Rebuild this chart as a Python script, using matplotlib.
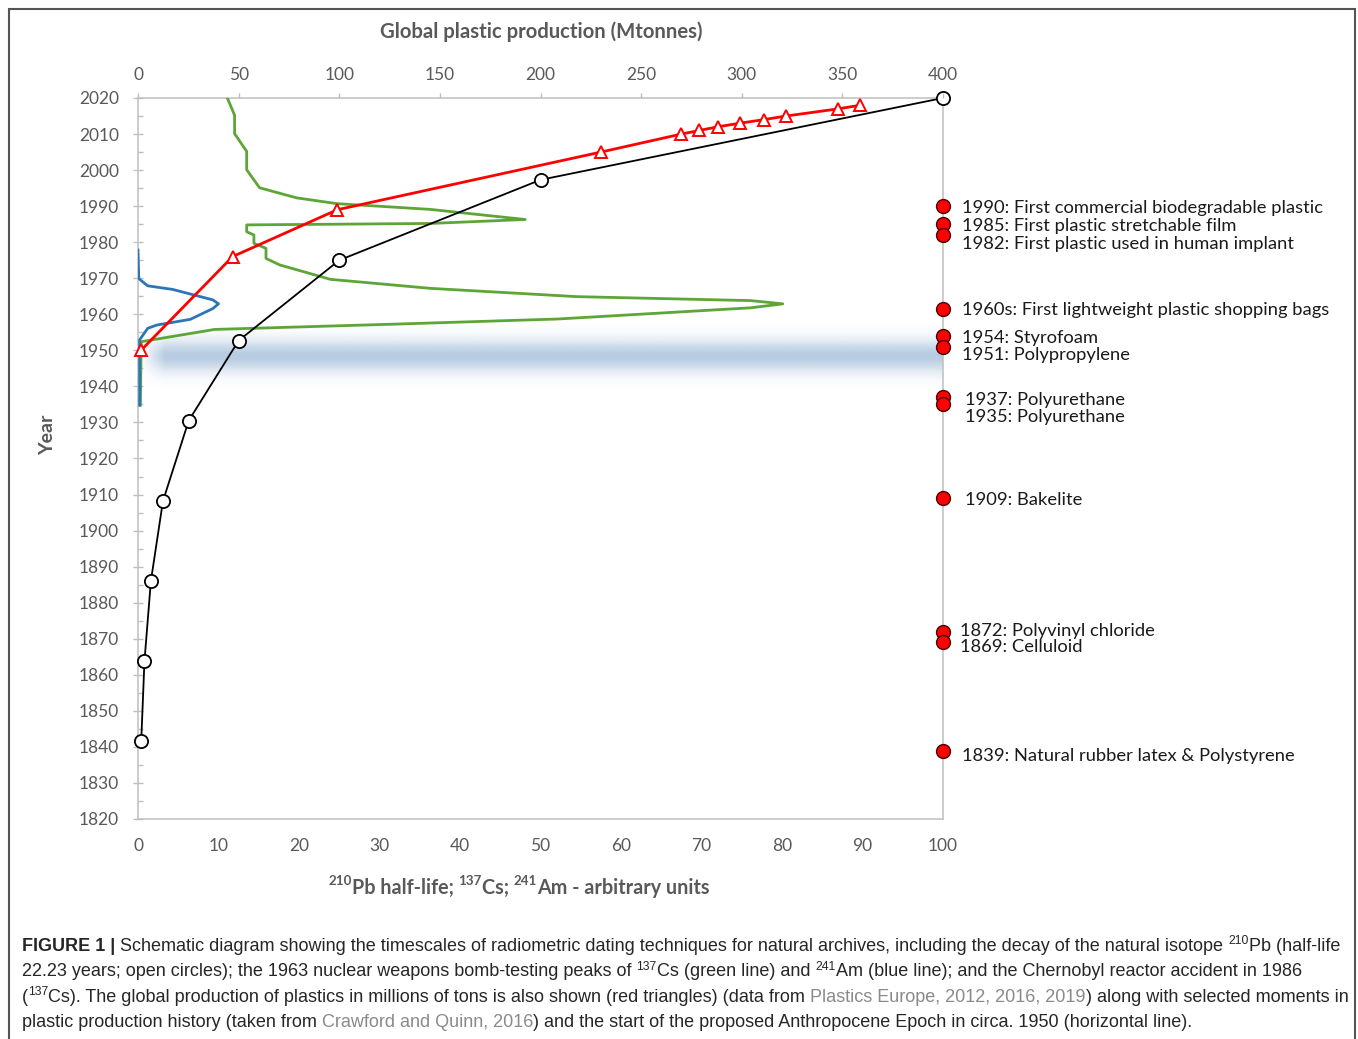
import numpy as np
import matplotlib
matplotlib.use('Agg')
import matplotlib.pyplot as plt
from matplotlib.transforms import IdentityTransform
from matplotlib.patches import Rectangle

# 210Pb decay (open circles), bottom axis units
pb_value = [0.4, 0.8, 1.6, 3.1, 6.3, 12.5, 25, 50, 100]
pb_year = [1841.5, 1863.7, 1886, 1908.2, 1930.5, 1952.7, 1975, 1997.3, 2020]

# 137Cs profile (green line)
cs_value = [11.1, 12.0, 12.0, 13.5, 13.5, 15.1, 19.7, 24.7, 36.3, 48.1, 36.3, 13.5,
            13.5, 14.4, 14.4, 15.9, 15.9, 17.6, 23.9, 36.3, 54.5, 76.1, 80.1, 76.1,
            52.2, 32.3, 9.5, 0.4, 0.3]
cs_year = [2020, 2015.2, 2010.1, 2005.2, 2000.1, 1995.1, 1992.3, 1990.7, 1989.1, 1986.3,
           1985.2, 1984.8, 1982.9, 1982, 1979.7, 1978.3, 1975.5, 1973.7, 1969.7, 1967.2,
           1964.9, 1963.8, 1962.9, 1961.8, 1958.7, 1957.3, 1955.8, 1952.4, 1934.8]

# 241Am profile (blue line)
am_value = [0, 0.1, 1.2, 4.3, 9.3, 10.0, 9.3, 6.5, 2.3, 1.2, 0.2, 0.2]
am_year = [1977.8, 1969.9, 1967.9, 1966.9, 1964, 1962.9, 1961.6, 1958.6, 1957, 1956.1, 1952.9, 1934.8]

# global plastic production, Mtonnes (red triangles, top axis)
plastic_year = [1950, 1976, 1989, 2005, 2010, 2011, 2012, 2013, 2014, 2015, 2017, 2018]
plastic_mt = [1.5, 47, 99, 230, 270, 279, 288, 299, 311, 322, 348, 359]

# plastic history events
event_year = [1990, 1985, 1982, 1961.5, 1954, 1951, 1937, 1935, 1909, 1872, 1869, 1839]
event_label = ['1990: First commercial biodegradable plastic',
               '1985: First plastic stretchable film',
               '1982: First plastic used in human implant',
               '1960s: First lightweight plastic shopping bags',
               '1954: Styrofoam',
               '1951: Polypropylene',
               '1937: Polyurethane',
               '1935: Polyurethane',
               '1909: Bakelite',
               '1872: Polyvinyl chloride',
               '1869: Celluloid',
               '1839: Natural rubber latex & Polystyrene']
label_dx = [19, 19, 19, 19, 19, 19, 22, 22, 22, 17, 17, 19]   # px
label_dy = [2, 2, 9, 1, 2, 8, 3, 13, 2, -1, 5, 5]             # px, down

W, H = 1358, 1039
FONT = 'Lato'
GREY = '#595959'
plt.rcParams['font.family'] = FONT

fig = plt.figure(figsize=(W / 100, H / 100), dpi=100)
ax = fig.add_axes([138 / W, 1 - 819 / H, (943 - 138) / W, (819 - 98) / H])

# anthropocene band around 1950
ny, nx = 100, 400
yy = np.linspace(-1, 1, ny)[:, None]
xx = np.linspace(0, 1, nx)[None, :]
alpha = np.exp(-(yy / 0.5) ** 2) * np.clip(xx / 0.03, 0, 1)
img = np.zeros((ny, nx, 4))
img[..., 0] = 0.72
img[..., 1] = 0.80
img[..., 2] = 0.89
img[..., 3] = alpha
ax.imshow(img, extent=[0.3, 100, 1939.5, 1957], aspect='auto', zorder=1,
          interpolation='bilinear', origin='lower')

ax.plot(cs_value, cs_year, color='#5ea537', lw=2.0, zorder=3)
ax.plot(am_value, am_year, color='#2e75b6', lw=2.0, zorder=3)
ax.plot(pb_value, pb_year, color='black', lw=1.3, marker='o', ms=9.5,
        mfc='white', mec='black', mew=1.3, zorder=4, clip_on=False)
ax.plot([100] * len(event_year), event_year, 'o', ms=10, mfc='#ff0000',
        mec='#4a0000', mew=1.0, zorder=6, clip_on=False)

for yr, lab, dx, dy in zip(event_year, event_label, label_dx, label_dy):
    ax.annotate(lab, xy=(100, yr), xytext=(dx * 0.72, -dy * 0.72),
                textcoords='offset points', ha='left', va='center',
                fontsize=13.2, color='#1a1a1a', annotation_clip=False)

ax.set_xlim(0, 100)
ax.set_ylim(1820, 2020)
ax.set_xticks(np.arange(0, 101, 10))
ax.set_yticks(np.arange(1820, 2021, 10))
ax.set_yticks(np.arange(1825, 2020, 10), minor=True)
ax.tick_params(axis='x', length=0, pad=14, labelsize=12.5, labelcolor=GREY)
ax.tick_params(axis='y', which='major', direction='inout', length=7, width=1,
               color='#bfbfbf', pad=10, labelsize=12.5, labelcolor=GREY)
ax.tick_params(axis='y', which='minor', direction='in', length=3.6, width=1,
               color='#bfbfbf')
for s in ax.spines.values():
    s.set_color('#bfbfbf')
    s.set_linewidth(1.1)

ax2 = ax.twiny()
ax2.plot(plastic_mt, plastic_year, color='#ff0000', lw=2.0, marker='^', ms=9,
         mfc='white', mec='#ff0000', mew=1.4, zorder=5, clip_on=False)
ax2.set_xlim(0, 400)
ax2.set_xticks(np.arange(0, 401, 50))
ax2.tick_params(axis='x', direction='out', length=3.6, width=1, color='#bfbfbf',
                pad=7, labelsize=12.5, labelcolor=GREY)
for s in ax2.spines.values():
    s.set_visible(False)

fig.text(541 / W, 1 - 32 / H, 'Global plastic production (Mtonnes)', ha='center',
         va='center', fontsize=14.6, weight='bold', color=GREY)
fig.text(48 / W, 1 - 435 / H, 'Year', rotation=90, ha='center', va='center',
         fontsize=14, weight='bold', color=GREY)

renderer = fig.canvas.get_renderer()


def seg_width(s, size, weight, family):
    t = fig.text(0, 0, 'l' + s + 'l', fontsize=size, weight=weight, family=family,
                 transform=IdentityTransform())
    w1 = t.get_window_extent(renderer).width
    t.set_text('ll')
    w2 = t.get_window_extent(renderer).width
    t.remove()
    return w1 - w2


def draw_line(x, y, segs, size, family, ha='left', rise=0.5):
    parts = []
    for text, weight, color, sup in segs:
        sz = size * 0.68 if sup else size
        parts.append((text, weight, color, sup, sz, seg_width(text, sz, weight, family)))
    if ha == 'center':
        x -= sum(p[5] for p in parts) / 2
    for text, weight, color, sup, sz, w in parts:
        fig.text(x, y + (size * rise if sup else 0), text, fontsize=sz, weight=weight,
                 color=color, family=family, ha='left', va='baseline',
                 transform=IdentityTransform())
        x += w


# x-axis label with superscripts
draw_line(519, H - 894,
          [('210', 'bold', GREY, True), ('Pb half-life; ', 'bold', GREY, False),
           ('137', 'bold', GREY, True), ('Cs; ', 'bold', GREY, False),
           ('241', 'bold', GREY, True), ('Am - arbitrary units', 'bold', GREY, False)],
          14.2, FONT, ha='center', rise=0.6)

# caption
CAP = 'Liberation Sans'
TXT = '#262626'
LINK = '#8a8a8a'
cap_lines = [
    [('FIGURE 1 |', 'bold', TXT, False),
     (' Schematic diagram showing the timescales of radiometric dating techniques for '
      'natural archives, including the decay of the natural isotope ', 'normal', TXT, False),
     ('210', 'normal', TXT, True), ('Pb (half-life', 'normal', TXT, False)],
    [('22.23 years; open circles); the 1963 nuclear weapons bomb-testing peaks of ',
      'normal', TXT, False),
     ('137', 'normal', TXT, True), ('Cs (green line) and ', 'normal', TXT, False),
     ('241', 'normal', TXT, True),
     ('Am (blue line); and the Chernobyl reactor accident in 1986', 'normal', TXT, False)],
    [('(', 'normal', TXT, False), ('137', 'normal', TXT, True),
     ('Cs). The global production of plastics in millions of tons is also shown '
      '(red triangles) (data from ', 'normal', TXT, False),
     ('Plastics Europe, 2012, 2016, 2019', 'normal', LINK, False),
     (') along with selected moments in', 'normal', TXT, False)],
    [('plastic production history (taken from ', 'normal', TXT, False),
     ('Crawford and Quinn, 2016', 'normal', LINK, False),
     (') and the start of the proposed Anthropocene Epoch in circa. 1950 (horizontal line).',
      'normal', TXT, False)],
]
for i, segs in enumerate(cap_lines):
    draw_line(22, H - (951 + i * 25.3), segs, 13.0, CAP)

fig.add_artist(Rectangle((9, -5), 1346, H - 9 + 5, transform=IdentityTransform(),
                         fill=False, edgecolor='#555555', lw=1.5))

fig.savefig('out.png', dpi=100)
